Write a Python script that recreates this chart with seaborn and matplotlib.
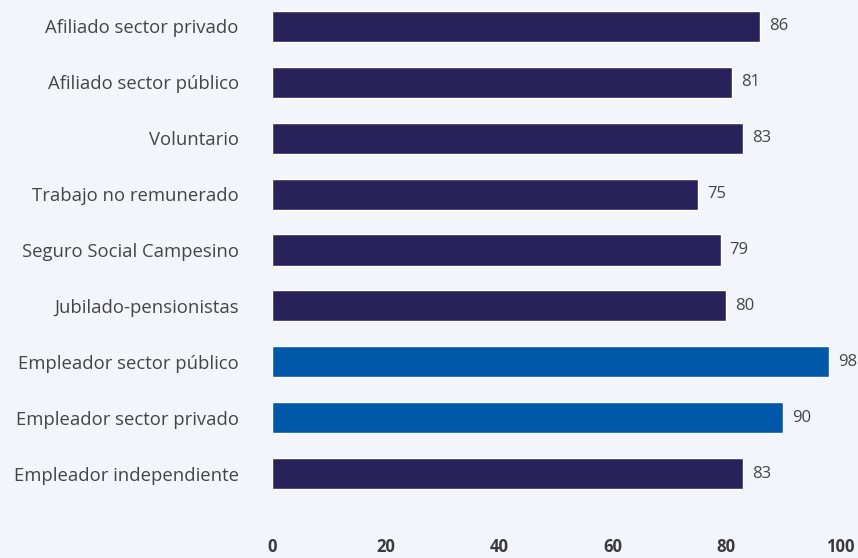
import matplotlib
matplotlib.use("Agg")
import matplotlib.pyplot as plt
import seaborn as sns
import pandas as pd

categories = [
    "Afiliado sector privado",
    "Afiliado sector público",
    "Voluntario",
    "Trabajo no remunerado",
    "Seguro Social Campesino",
    "Jubilado-pensionistas",
    "Empleador sector público",
    "Empleador sector privado",
    "Empleador independiente",
]
values = [86, 81, 83, 75, 79, 80, 98, 90, 83]
groups = ["afiliado", "afiliado", "afiliado", "afiliado", "afiliado",
          "afiliado", "empleador", "empleador", "afiliado"]
x_ticks = [0, 20, 40, 60, 80, 100]

NAVY = "#27235a"
BLUE = "#0058a8"
BG = "#f2f5f9"
TEXT = "#454545"

df = pd.DataFrame({"categoria": categories, "valor": values, "grupo": groups})

sns.set_theme(style="white")
plt.rcParams["font.family"] = ["Open Sans", "DejaVu Sans"]

W, H = 858, 558
fig = plt.figure(figsize=(W / 100, H / 100), dpi=100, facecolor=BG)

# axes box in pixels
left_px, right_px = 272, 858
top_px, bottom_px = 0, 520
ax = fig.add_axes([left_px / W, 1 - bottom_px / H,
                   (right_px - left_px) / W, (bottom_px - top_px) / H])
ax.set_facecolor(BG)

sns.barplot(data=df, y="categoria", x="valor", hue="grupo",
            palette={"afiliado": NAVY, "empleador": BLUE},
            dodge=False, legend=False, width=0.555, ax=ax,
            saturation=1, orient="h")

unit_px = 5.68
ax.set_xlim(0, (right_px - left_px) / unit_px)
spacing = 55.9
ax.set_ylim(8 + (bottom_px - 473.5) / spacing, -26.5 / spacing)

for i, v in enumerate(values):
    ax.text(v + 9 / unit_px, i, f"{v}", va="center", ha="left",
            fontsize=12, color=TEXT, clip_on=False)

ax.set_xticks(x_ticks)
ax.set_xticklabels([str(t) for t in x_ticks], fontweight="bold",
                   fontsize=12, color="#3a3a3a")
ax.tick_params(axis="x", length=0, pad=13)
ax.tick_params(axis="y", length=0, pad=24, labelsize=13.3, labelcolor=TEXT)
ax.set_xlabel("")
ax.set_ylabel("")
for s in ax.spines.values():
    s.set_visible(False)
ax.grid(False)

fig.savefig("out.png", dpi=100, facecolor=BG)
